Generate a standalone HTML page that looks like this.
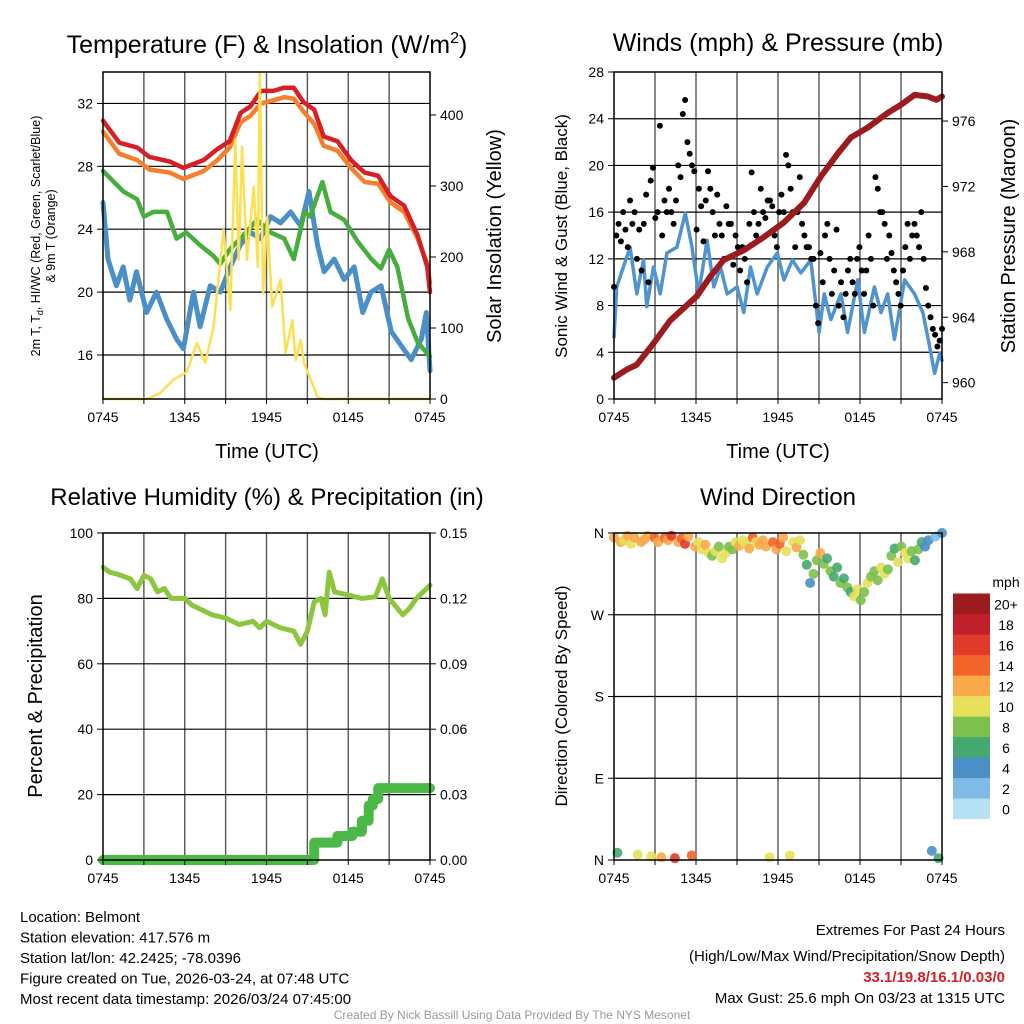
<!DOCTYPE html>
<html><head><meta charset="utf-8"><style>
body{margin:0;background:#fff;}
svg{display:block;font-family:"Liberation Sans",Arial,sans-serif;}
</style></head><body>
<svg id="s" width="1024" height="1024" viewBox="0 0 1024 1024" xmlns="http://www.w3.org/2000/svg"></svg>
<script>
// ---------- DATA ----------
const xTickLabels = ["0745","1345","1945","0145","0745"];
// Panel 1: temperatures
const redT = [0,1.2,2.5,3.4,4.9,5.9,7.4,8.4,9.3,10.1,10.8,11.6,12.5,13.3,14,14.7,15.5,16.2,17.2,18.2,19.2,20.2,21.1,22.1,23.1,23.8,24];
const redV = [30.9,29.5,29.2,28.6,28.3,27.9,28.4,29.1,29.6,31.4,31.8,32.8,32.8,33.0,33.0,32.1,31.6,29.9,29.6,28.4,27.6,27.4,26.1,25.5,23.6,21.6,20.0];
const orangeV = [30.2,28.8,28.4,27.8,27.6,27.2,27.7,28.4,29.2,30.8,31.2,32.0,32.2,32.4,32.3,31.5,30.7,29.3,29.0,27.9,27.0,26.9,25.7,25.1,23.4,21.8,20.6];
const greenT = [0,1.5,2.5,3,3.7,4.7,5.4,6.1,7.1,8.1,8.6,9.3,10.3,11.3,12.3,13.3,14,14.8,15.2,16.1,16.7,17.7,18.7,19.7,20.4,21,21.6,22.4,23.1,24];
const greenV = [27.7,26.4,25.9,24.8,25.1,25.1,23.4,23.8,23.0,22.3,21.8,22.7,23.6,24.6,23.8,23.4,22.1,25.1,24.8,27.0,25.1,24.6,23.2,22.1,21.5,22.7,21.6,18.3,16.8,15.9];
const blueT = [0,0.37,0.98,1.48,1.97,2.46,3.2,3.93,4.67,5.41,5.9,6.64,7.13,7.87,8.61,9.34,10.08,10.82,11.56,12.3,13.03,13.77,14.51,15.12,15.74,16.23,16.97,17.7,18.44,19.06,19.67,20.41,21.15,21.88,22.62,23.36,23.73,24];
const blueV = [25.7,22.1,20.4,21.6,19.5,21.3,18.7,20.0,18.3,17.0,16.4,20.0,17.8,20.4,20.0,21.6,23.0,23.8,23.4,24.8,24.4,25.1,24.2,26.4,23.0,21.3,22.1,20.8,21.6,18.7,20.0,20.4,17.5,16.6,15.7,17.0,18.7,15.0];
const solarT = [0,3.2,4.18,5.16,6.15,6.89,7.5,8.11,8.85,9.34,9.71,9.96,10.2,10.57,11.07,11.36,11.51,11.75,12.05,12.42,13.03,13.4,13.89,14.14,14.51,14.75,15.74,16.23,24];
const solarV = [0,0,8,27,38,79,51,101,238,125,365,196,355,196,299,186,459,149,256,130,168,65,111,55,83,51,3,0,0];
const tempTicks = [16,20,24,28,32];
const solarTicks = [0,100,200,300,400];
// Panel 2: winds & pressure
const windT = [0,0.2,0.69,1.18,1.67,2.16,2.4,2.89,3.38,3.87,4.6,5.22,5.71,6.2,6.81,7.3,7.79,8.28,9.01,9.5,9.99,10.48,11.22,11.95,12.44,13.05,13.67,14.4,15.01,15.38,15.87,16.6,17.09,17.83,18.32,19.05,19.54,20.03,20.52,21.26,21.99,22.6,23.09,23.46,23.83,24];
const windV = [5.3,9.6,11.3,13,9,11.9,7.9,11.3,9,12.5,13,15.9,13,9,13.6,9.6,11.3,9,9.6,7.4,11.3,9,11.3,12.5,10.2,11.9,10.8,11.9,5.7,9,6.8,9,5.7,10.2,5.7,9.6,7.4,9,5.1,10.2,9,7.4,4.5,2.2,3.9,3.3];
const gustV = [9.6,14,15,13.5,16,14.5, 13,17,15,16,12,14.5, 11,15,17.5,10,18.7,19.8, 15.5,16,23.4,14,17,16, 18,16,15,17,20,19, 24.4,25.6,22,21,20,19.5,14.5, 18,16.5,13.5,17,19.5,18, 16,14,17.5,15,14,12, 16.5,15,15,11.5,14,13, 11,13,12,10,15,19.4, 16,14,15,18,16,15.5, 17,17,16.5,14,13,16, 17.5,16,20.9,20,18,16, 13,16,19,15,14,13, 13,12,12,8,6.5,12.5, 10,14,15,12,9,11, 14.5,8,10,7,9,11, 12,10,9,12,13,11, 9,11,14,12,8,19, 18,16,16,15,12,14, 12.5,11,10,9,8,11, 13,15,12,14,15,14, 13,16,12,9.5,8,7, 6,5.5,4.5,5,6];
const presT = [0,0.93,1.67,2.89,4.11,6.07,7.05,8.03,9.5,10.97,12.44,13.91,15.13,16.36,17.34,18.56,20.03,21.01,21.99,22.97,23.58,24];
const presV = [960.3,960.8,961.1,962.4,963.8,965.3,966.5,967.5,968.1,968.9,969.8,971.0,972.6,974.0,975.0,975.6,976.5,977.0,977.6,977.5,977.3,977.5];
const windTicks = [0,4,8,12,16,20,24,28];
const presTicks = [960,964,968,972,976];
// Panel 3: RH & precip
const rhT = [0,0.5,1,2,2.5,3,3.5,4,4.5,5,6,6.5,7,8,9,10,11,11.5,12,13,14,14.5,15,15.5,16,16.3,16.6,17,18,19,20,20.5,21,22,22.5,23,24];
const rhV = [89.5,88,87.5,86,83,87,86,82,83,80,80,78,77,75,74,72,73,71,73,71,70,66,70,79,80,75,88,82,81,80,80.5,86,80,75,77,80,84];
const precT = [0,15.4,15.5,17.2,18.3,19.0,19.5,19.8,20.2,24];
const precV = [0,0,0.008,0.011,0.013,0.018,0.025,0.028,0.033,0.033];
const rhTicks = [0,20,40,60,80,100];
const precTicks = ["0.00","0.03","0.06","0.09","0.12","0.15"];
// Panel 4: wind direction (every 15 min)
const dirV = [355,8,350,352,357, 348,355,6,350, 353,357,4,355, 350,3,355,352, 357,2,350,354, 348,356,5,345, 350,342,347,338, 335,340,345,332, 338,345,342,350, 346,352,348,343, 355,350,347,352, 345,3,350,342, 348,355,340,5, 350,344,352,336, 325,305,315,330, 338,326,332,318, 312,322,305,310, 300,295,290,298, 286,295,305,312, 318,308,322,315, 320,335,343,328, 345,338,332,340, 330,342,350,345, 352,10,356,2,360];
const dirSpd = [11,5,12,10,11, 10,12,10,11, 12,11,10,13, 12,11,14,12, 15,16,12,14, 15,12,14,11, 10,9,11,10, 8,9,7,10, 9,8,7,10, 11,9,10,12, 13,10,12,11, 12,10,13,11, 13,12,9,10, 10,12,9,8, 6,4,7,8, 12,7,5,8, 6,5,7,6, 7,6,9,10, 7,8,9,8, 8,7,9,10, 8,7,5,9, 8,9,10,8, 6,8,5,4, 4,3,2,5,3];
const dirLabels = ["N","E","S","W","N"];
const cbLabels = ["0","2","4","6","8","10","12","14","16","18","20+"];
const cbColors = ["#b7e2f6","#7fbbe6","#4a8fc6","#45a86e","#7dc04e","#e6e05a","#f9a84a","#f26429","#e03a2b","#c0202a","#9b1b1e"];

// ---------- DRAW ----------
const NS="http://www.w3.org/2000/svg";
const S=document.getElementById('s');
function el(tag,attrs,parent){const e=document.createElementNS(NS,tag);for(const k in attrs)e.setAttribute(k,attrs[k]);(parent||S).appendChild(e);return e;}
function txt(str,attrs,parent){const e=el('text',attrs,parent);e.textContent=str;return e;}
const P1={x0:103,x1:430,y0:72,y1:399}, P2={x0:614,x1:942,y0:72,y1:399}, P3={x0:103,x1:430,y0:533,y1:860}, P4={x0:614,x1:942,y0:533,y1:860};
function xs(P){return t=>P.x0+t/24*(P.x1-P.x0);}
function lin(d0,d1,P){return v=>P.y1-(v-d0)/(d1-d0)*(P.y1-P.y0);}
const y1L=lin(13.2,34.0,P1), y1R=lin(0,460.5,P1);
const y2L=lin(0,28,P2), y2R=lin(959.0,979.0,P2);
const y3L=lin(0,100,P3), y3R=lin(0,0.15,P3);
const y4=lin(0,360,P4);

function frame(P,name){
  const g=el('g',{});
  
  
  for(let h=3;h<24;h+=3){const x=xs(P)(h);
    el('line',{x1:x,x2:x,y1:P.y0,y2:P.y1,stroke:'#555','stroke-width':1.4},g);}
  return g;
}
function hgrid(P,ys,g){ys.forEach(y=>{if(y>P.y0+1&&y<P.y1-1)el('line',{x1:P.x0,x2:P.x1,y1:y,y2:y,stroke:'#000','stroke-width':1.2},g);});}
function border(P,name){
  const r=el('rect',{x:P.x0,y:P.y0,width:P.x1-P.x0,height:P.y1-P.y0,fill:'none',stroke:'#000','stroke-width':1.5});
  
  
  const g=el('g',{});
  
  
  for(let i=0;i<xTickLabels.length;i++){const x=xs(P)(i*6);
    el('line',{x1:x,x2:x,y1:P.y1,y2:P.y1+5,stroke:'#000'},g);
    const t=txt(xTickLabels[i],{x:x,y:P.y1+23,'font-size':14,'text-anchor':'middle'},g);
    
    }
  for(let h=3;h<24;h+=6){const x=xs(P)(h);el('line',{x1:x,x2:x,y1:P.y1,y2:P.y1+5,stroke:'#000'},g);}
}
function path(pts,attrs,name){
  const d=pts.map((p,i)=>(i?'L':'M')+p[0].toFixed(1)+','+p[1].toFixed(1)).join('');
  const e=el('path',Object.assign({d:d,fill:'none','stroke-linejoin':'round','stroke-linecap':'round'},attrs));
  
  
  return e;
}
function leftTicks(P,vals,yf,labels,name){const g=el('g',{});
  
  
  vals.forEach((v,i)=>{const y=yf(v);el('line',{x1:P.x0-6,x2:P.x0,y1:y,y2:y,stroke:'#000'},g);
    txt(labels?labels[i]:String(v),{x:P.x0-10,y:y+5,'font-size':14,'text-anchor':'end'},g);});}
function rightTicks(P,vals,yf,labels,name){const g=el('g',{});
  
  
  vals.forEach((v,i)=>{const y=yf(v);el('line',{x1:P.x1,x2:P.x1+6,y1:y,y2:y,stroke:'#000'},g);
    txt(labels?labels[i]:String(v),{x:P.x1+10,y:y+5,'font-size':14},g);});}

// ===== Panel 1 =====
let g=frame(P1,'temp-panel'); hgrid(P1,tempTicks.map(y1L),g);
const x1=xs(P1);
path(blueT.map((t,i)=>[x1(t),y1L(blueV[i])]),{stroke:'#4a8fc6','stroke-width':5},'dewpoint-line');
path(greenT.map((t,i)=>[x1(t),y1L(greenV[i])]),{stroke:'#46ad3f','stroke-width':4.5},'heat-index-wind-chill-line');
path(redT.map((t,i)=>[x1(t),y1L(orangeV[i])]),{stroke:'#f57f2b','stroke-width':4.5},'9m-temperature-line');
path(redT.map((t,i)=>[x1(t),y1L(redV[i])]),{stroke:'#d61f26','stroke-width':4.5},'2m-temperature-line');
path(solarT.map((t,i)=>[x1(t),y1R(solarV[i])]),{stroke:'#fde052','stroke-width':2.5},'solar-insolation-line');
border(P1,'temp-panel');
leftTicks(P1,tempTicks,y1L,null,'temp-y-axis');
rightTicks(P1,solarTicks,y1R,null,'solar-y-axis');

// ===== Panel 2 =====
g=frame(P2,'wind-panel'); hgrid(P2,windTicks.map(y2L),g);
const x2=xs(P2);
path(windT.map((t,i)=>[x2(t),y2L(windV[i])]),{stroke:'#4f94cf','stroke-width':3.5},'sonic-wind-line');
const gg=el('g',{});


gustV.forEach((v,i)=>{el('circle',{cx:x2(i*24/(gustV.length-1)),cy:y2L(v),r:3,fill:'#000'},gg);});
path(presT.map((t,i)=>[x2(t),y2R(presV[i])]),{stroke:'#9b1b1e','stroke-width':6},'pressure-line');
border(P2,'wind-panel');
leftTicks(P2,windTicks,y2L,null,'wind-y-axis');
rightTicks(P2,presTicks,y2R,null,'pressure-y-axis');

// ===== Panel 3 =====
g=frame(P3,'rh-panel'); hgrid(P3,rhTicks.map(y3L),g);
const x3=xs(P3);
path(rhT.map((t,i)=>[x3(t),y3L(rhV[i])]),{stroke:'#8cc63f','stroke-width':5},'relative-humidity-line');
const stepPts=[];precT.forEach((t,i)=>{if(i>0)stepPts.push([x3(t),y3R(precV[i-1])]);stepPts.push([x3(t),y3R(precV[i])]);});
path(stepPts,{stroke:'#4cb847','stroke-width':10},'precipitation-line');
border(P3,'rh-panel');
leftTicks(P3,rhTicks,y3L,null,'rh-y-axis');
rightTicks(P3,[0,0.03,0.06,0.09,0.12,0.15],y3R,precTicks,'precip-y-axis');

// ===== Panel 4 =====
g=frame(P4,'direction-panel'); hgrid(P4,[0,90,180,270,360].map(y4),g);
const x4=xs(P4);
const dg=el('g',{});


dirV.forEach((d,i)=>{const ci=Math.min(10,Math.round(dirSpd[i]/2));
  el('circle',{cx:x4(i*24/(dirV.length-1)),cy:y4(d),r:5,fill:cbColors[ci],'fill-opacity':0.9},dg);});
border(P4,'direction-panel');
leftTicks(P4,[0,90,180,270,360],y4,dirLabels,'direction-y-axis');
// colorbar
const cb=el('g',{});


cbColors.forEach((c,i)=>{const y=819-(i+1)*20.5;
  el('rect',{x:953,y:y,width:37,height:20.6,fill:c},cb);
  txt(cbLabels[i],{x:1006,y:y+16,'font-size':14,'text-anchor':'middle'},cb);});
txt('mph',{x:1006,y:587,'font-size':14,'text-anchor':'middle'},cb);

// ---------- TITLES / LABELS ----------
function T(s,a,name){const t=txt(s,a);return t;}
const t1=T('',{x:267,y:53,'font-size':25,'text-anchor':'middle'},'temp-panel-title');
t1.innerHTML='Temperature (F) &amp; Insolation (W/m<tspan font-size="16" dy="-10">2</tspan><tspan dy="10">)</tspan>';
T('Winds (mph) & Pressure (mb)',{x:778,y:51,'font-size':25,'text-anchor':'middle'},'wind-panel-title');
T('Relative Humidity (%) & Precipitation (in)',{x:267,y:505,'font-size':24,'text-anchor':'middle'},'rh-panel-title');
T('Wind Direction',{x:778,y:505,'font-size':24,'text-anchor':'middle'},'direction-panel-title');
T('Time (UTC)',{x:267,y:458,'font-size':20,'text-anchor':'middle'},'temp-x-axis-title');
T('Time (UTC)',{x:778,y:458,'font-size':20,'text-anchor':'middle'},'wind-x-axis-title');
const yl=T('',{x:0,y:0,'font-size':12.5,'text-anchor':'middle',transform:'translate(40,236) rotate(-90)'},'temp-y-axis-title');
yl.innerHTML='2m T, T<tspan font-size="9" dy="3">d</tspan><tspan dy="-3">, HI/WC (Red, Green, Scarlet/Blue)</tspan>';
T('& 9m T (Orange)',{x:0,y:0,'font-size':12.5,'text-anchor':'middle',transform:'translate(55,236) rotate(-90)'},'temp-y-axis-title-2');
T('Solar Insolation (Yellow)',{x:0,y:0,'font-size':20,'text-anchor':'middle',transform:'translate(501,236) rotate(-90)'},'solar-y-axis-title');
T('Sonic Wind & Gust (Blue, Black)',{x:0,y:0,'font-size':17,'text-anchor':'middle',transform:'translate(567,236) rotate(-90)'},'wind-y-axis-title');
T('Station Pressure (Maroon)',{x:0,y:0,'font-size':20,'text-anchor':'middle',transform:'translate(1015,236) rotate(-90)'},'pressure-y-axis-title');
T('Percent & Precipitation',{x:0,y:0,'font-size':20,'text-anchor':'middle',transform:'translate(42,696) rotate(-90)'},'rh-y-axis-title');
T('Direction (Colored By Speed)',{x:0,y:0,'font-size':17,'text-anchor':'middle',transform:'translate(567,696) rotate(-90)'},'direction-y-axis-title');
const info=["Location: Belmont","Station elevation: 417.576 m","Station lat/lon: 42.2425; -78.0396","Figure created on Tue, 2026-03-24, at 07:48 UTC","Most recent data timestamp: 2026/03/24 07:45:00"];
info.forEach((s,i)=>T(s,{x:20,y:922+i*20.5,'font-size':15},'station-info-line'));
T('Extremes For Past 24 Hours',{x:1005,y:935,'font-size':15,'text-anchor':'end'},'extremes-title');
T('(High/Low/Max Wind/Precipitation/Snow Depth)',{x:1005,y:961,'font-size':15,'text-anchor':'end'},'extremes-legend');
T('33.1/19.8/16.1/0.03/0',{x:1005,y:982,'font-size':15,'font-weight':'bold',fill:'#d61f26','text-anchor':'end'},'extremes-values');
T('Max Gust: 25.6 mph On 03/23 at 1315 UTC',{x:1005,y:1003,'font-size':15,'text-anchor':'end'},'max-gust');
T('Created By Nick Bassill Using Data Provided By The NYS Mesonet',{x:512,y:1019,'font-size':12,fill:'#999','text-anchor':'middle'},'credits');
</script>
</body></html>
